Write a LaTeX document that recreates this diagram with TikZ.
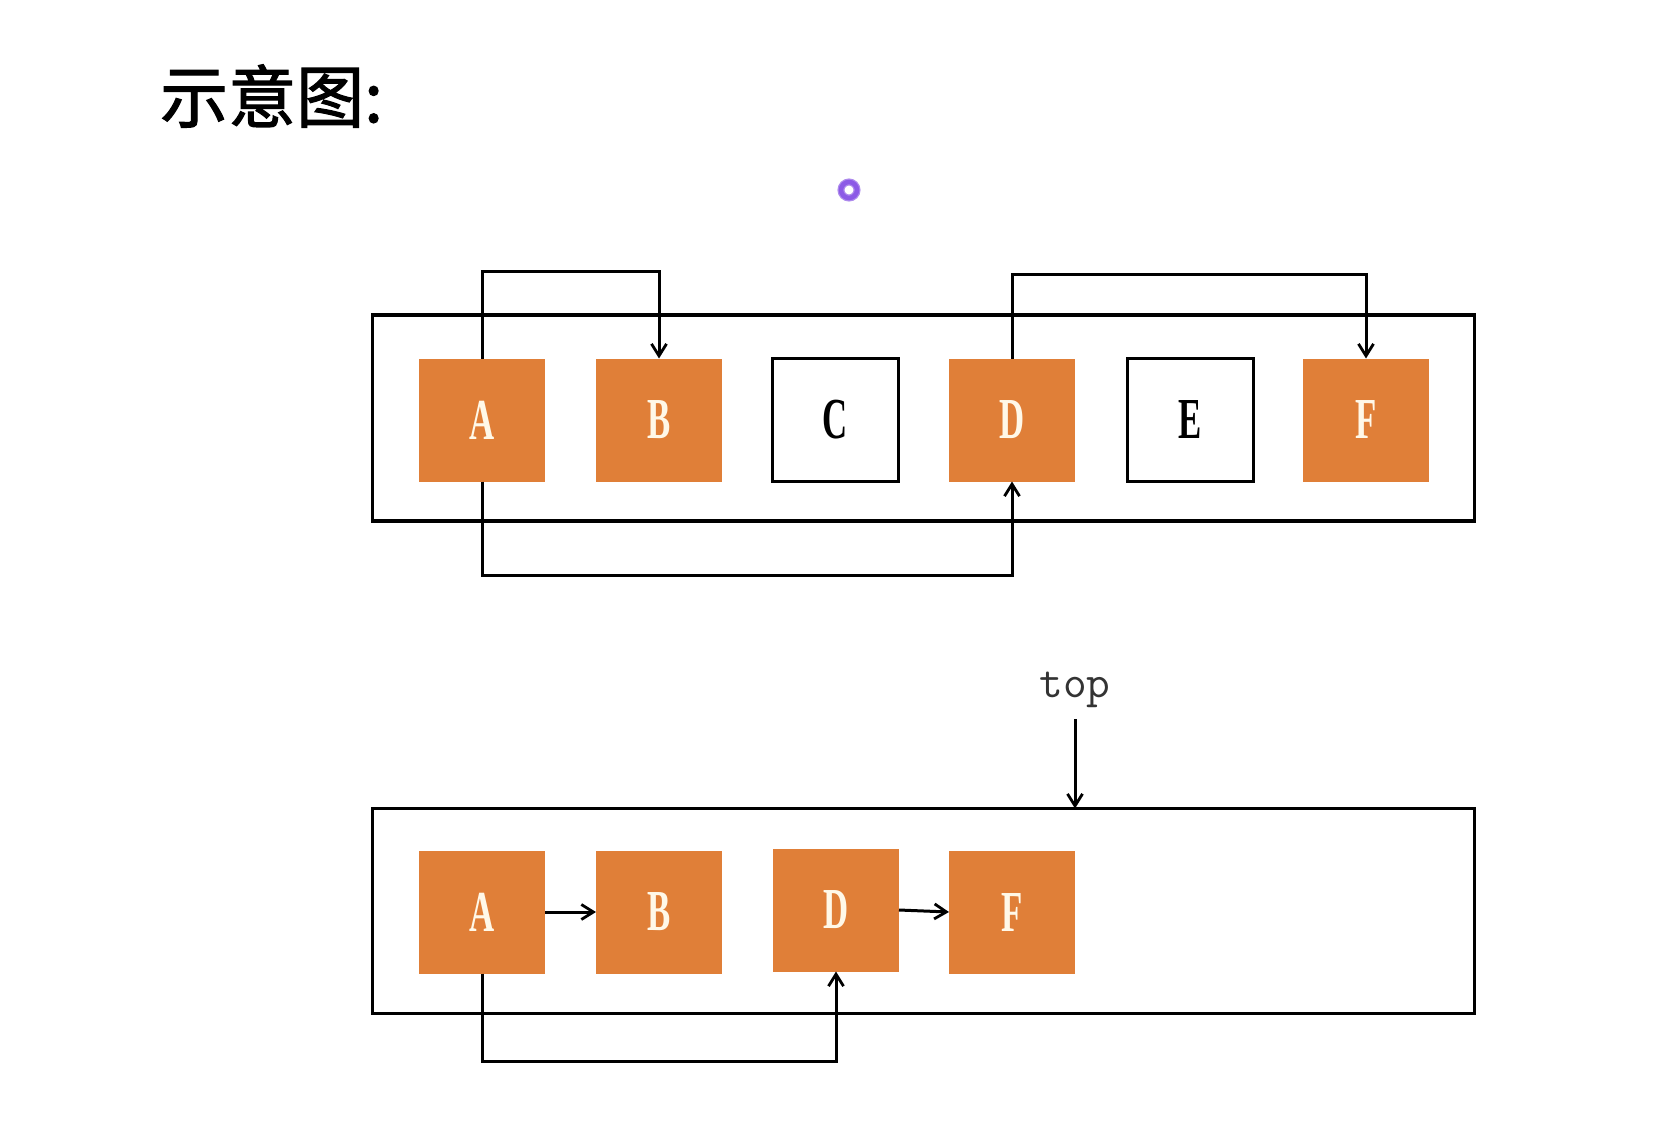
\documentclass[tikz,border=0pt]{standalone}
\usepackage{fontspec}
\setmainfont{Liberation Serif}
\newfontfamily\cjk{Noto Sans CJK SC}[BoldFont={Noto Sans CJK SC},BoldFeatures={FakeBold=1.6}]
\usetikzlibrary{arrows.meta}
\definecolor{boxorange}{RGB}{224,127,56}
\definecolor{cream}{RGB}{255,248,232}
\definecolor{ringpurple}{RGB}{140,90,230}
\tikzset{
  cell/.style={minimum width=126pt,minimum height=123pt,inner sep=0pt,outer sep=0pt,font=\bfseries\fontsize{58}{60}\selectfont},
  fullcell/.style={cell,fill=boxorange,text=cream},
  emptycell/.style={cell,draw=black,line width=3pt,text=black},
  frame/.style={draw=black,line width=3.4pt},
  link/.style={draw=black,line width=3pt,-{Straight Barb[length=12pt,width=15pt,line width=2.8pt]}},
}
\newcommand{\narrow}[1]{\scalebox{0.6}[1]{#1}}
\begin{document}
\begin{tikzpicture}[x=1pt,y=-1pt]
\useasboundingbox (0,0) rectangle (1658,1128);
\fill[white] (0,0) rectangle (1658,1128);
% title
\node[anchor=west,inner sep=0pt,font=\cjk\bfseries\fontsize{68}{70}\selectfont] (title) at (160,96) {示意图:};
% purple ring
\draw[ringpurple!70,line width=7pt] (849,190) circle (8pt);
\draw[ringpurple,line width=4.5pt] (849,190) circle (8pt);
% upper section
\node[frame,minimum width=1102pt,minimum height=206pt,inner sep=0pt] (frame1) at (923.5,418) {};
\node[fullcell] (a1) at (482,420) {\narrow{A}};
\node[fullcell] (b1) at (659,420) {\narrow{B}};
\node[emptycell] (c1) at (835,420) {\narrow{C}};
\node[fullcell] (d1) at (1012,420) {\narrow{D}};
\node[emptycell] (e1) at (1190,420) {\narrow{E}};
\node[fullcell] (f1) at (1366,420) {\narrow{F}};
\coordinate (u1) at (482,271);
\coordinate (u2) at (659,271);
\coordinate (u3) at (1012,274);
\coordinate (u4) at (1366,274);
\coordinate (l1) at (482,575);
\coordinate (l2) at (1012,575);
\draw[link] (a1.north) -- (u1) -- (u2) -- (b1.north);
\draw[link] (d1.north) -- (u3) -- (u4) -- (f1.north);
\draw[link] (a1.south) -- (l1) -- (l2) -- (d1.south);
% lower section
\node[frame,minimum width=1102pt,minimum height=205pt,inner sep=0pt] (frame2) at (923.5,911) {};
\node[fullcell] (a2) at (482,912) {\narrow{A}};
\node[fullcell] (b2) at (659,912) {\narrow{B}};
\node[fullcell] (d2) at (836,910) {\narrow{D}};
\node[fullcell] (f2) at (1012,912) {\narrow{F}};
\draw[link] (a2.east) -- (b2.west);
\draw[link] (d2.east) -- (f2.west);
\coordinate (m1) at (482,1061);
\coordinate (m2) at (836,1061);
\draw[link] (a2.south) -- (m1) -- (m2) -- (d2.south);
\node[font=\ttfamily\fontsize{46}{48}\selectfont,text=black!80,inner sep=0pt] (top) at (1075,690) {top};
\coordinate (topstart) at (1075,719);
\coordinate (topframe) at (1075,808.5);
\draw[link] (topstart) -- (topframe);
\end{tikzpicture}
\end{document}
